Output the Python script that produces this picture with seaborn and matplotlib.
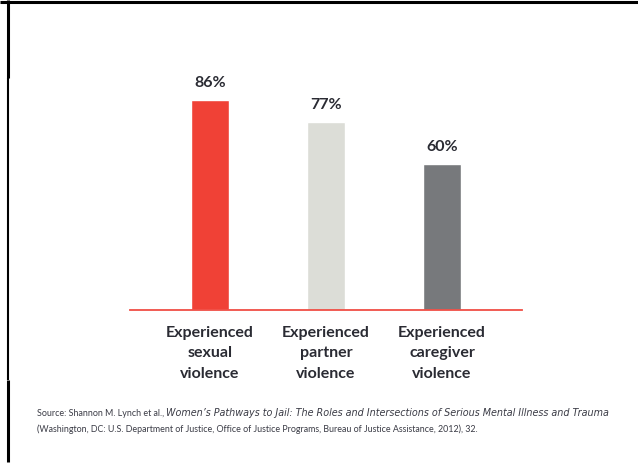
import matplotlib
matplotlib.use("Agg")
import matplotlib.pyplot as plt
from matplotlib.lines import Line2D
import seaborn as sns
import pandas as pd

categories = ["Experienced\nsexual\nviolence",
              "Experienced\npartner\nviolence",
              "Experienced\ncaregiver\nviolence"]
values = [86, 77, 60]
labels = ["86%", "77%", "60%"]
colors = ["#F04136", "#DCDDD7", "#77797C"]

df = pd.DataFrame({"cat": categories, "val": values})

sns.set_theme(style="white")
plt.rcParams["font.family"] = ["Lato", "DejaVu Sans"]
txt = "#2A2B33"

fig = plt.figure(figsize=(6.38, 4.68), dpi=100)
ax = fig.add_axes([130 / 638, 1 - 310 / 468, 392 / 638, 244 / 468])

sns.barplot(data=df, x="cat", y="val", hue="cat", palette=colors,
            width=0.32, legend=False, ax=ax, saturation=1)

for i, (v, lab) in enumerate(zip(values, labels)):
    ax.text(i, v + 4, lab, ha="center", va="bottom", fontsize=11.5,
            fontweight="bold", color=txt)

ax.set_xlim(-0.69, 2.69)
ax.set_ylim(0, 100)
ax.set_xlabel("")
ax.set_ylabel("")
ax.set_yticks([])
for s in ["top", "left", "right"]:
    ax.spines[s].set_visible(False)
ax.spines["bottom"].set_color("#F04E45")
ax.spines["bottom"].set_linewidth(1.3)
ax.tick_params(axis="x", length=0, pad=11.5)
for t in ax.get_xticklabels():
    t.set_fontsize(11.5)
    t.set_fontweight("bold")
    t.set_color(txt)
    t.set_linespacing(1.58)

# source note, mixed roman / italic
src_col = "#3A3B45"
fs = 6.4
y1 = 1 - 416 / 468
t1 = fig.text(37 / 638, y1, "Source: Shannon M. Lynch et al., ",
              fontsize=fs, color=src_col, va="baseline")
t2 = fig.text(0, y1, "Women\u2019s Pathways to Jail: The Roles and Intersections of Serious Mental Illness and Trauma",
              fontsize=6.9, color=src_col, style="italic", family="DejaVu Sans",
              va="baseline")
fig.canvas.draw()
bb = t1.get_window_extent(fig.canvas.get_renderer())
t2.set_x(bb.x1 / fig.bbox.width)
fig.text(37 / 638, 1 - 432 / 468,
         "(Washington, DC: U.S. Department of Justice, Office of Justice Programs, Bureau of Justice Assistance, 2012), 32.",
         fontsize=fs, color=src_col, va="baseline")

# frame remnants
x0 = 7.5 / 638
kw = dict(color="black", transform=fig.transFigure, solid_capstyle="butt")
fig.add_artist(Line2D([0, 1], [1 - 1.5 / 468] * 2, lw=2.2, **kw))
fig.add_artist(Line2D([x0, x0], [1 - 380 / 468, 1 - 78 / 468], lw=1.5, **kw))
fig.add_artist(Line2D([x0, x0], [1 - 78 / 468, 1], lw=2.2, **kw))
fig.add_artist(Line2D([x0, x0], [1 - 462 / 468, 1 - 380 / 468], lw=2.2, **kw))

fig.savefig("out.png", dpi=100)
